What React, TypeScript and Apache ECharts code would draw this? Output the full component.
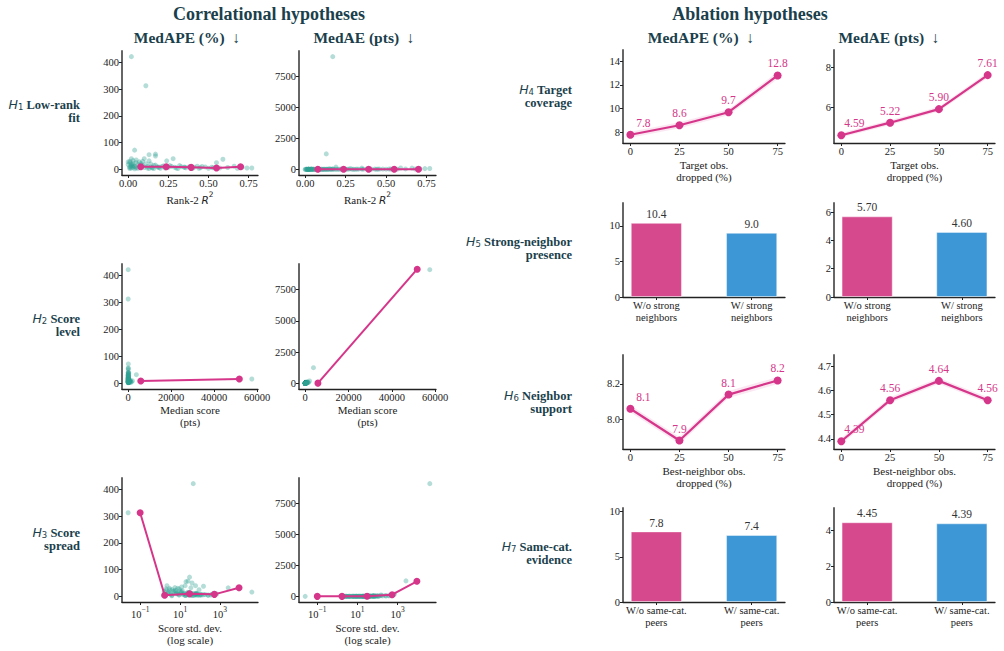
import React, { useEffect, useRef } from "react";
import * as echarts from "echarts";

const SERIF = "Liberation Serif, Times New Roman, Times, serif";
const MATH = "DejaVu Sans, sans-serif";
const INK = "#222222";
const HEAD = "#1b3f4c";
const MAGENTA = "#d6368a";
const TEAL = "rgba(46,160,148,0.45)";
const BAR_COLORS = ["#d64a8d", "#3d96d6"];
const RIBBON = "rgba(214,54,138,0.12)";

// Per-target measures (one entry per target)
const rankR2 = [
  0.02, 0.11, 0.17, 0.13, 0.19, 0.04, 0.17, 0.17, 0.13, 0.1,
  0.05, 0.28, 0.24, 0.59, 0.55, 0.66, 0.74, 0.77, 0.71, 0.01,
  0.01, 0.02, 0.03, 0.0, 0.01, 0.02, 0.03, 0.04, 0.05, 0.06,
  0.07, 0.08, 0.09, 0.1, 0.12, 0.14, 0.15, 0.16, 0.18, 0.2,
  0.22, 0.25, 0.27, 0.3, 0.32, 0.35, 0.38, 0.4, 0.43, 0.45,
  0.48, 0.5, 0.52, 0.57, 0.62, 0.68, 0.01, 0.02, 0.03, 0.0,
  0.05, 0.06, 0.07, 0.08, 0.04, 0.09, 0.11, 0.13, 0.02, 0.03,
  0.15, 0.35, 0.12, 0.14, 0.16, 0.19, 0.21, 0.23, 0.26, 0.29,
  0.31, 0.33, 0.36, 0.41, 0.44, 0.46, 0.53, 0.01, 0.02, 0.04,
];
const medianScore = [
  8, 0.1, 57500, 3800, 2000, 60, 40, 45, 30, 25,
  20, 150, 80, 300, 200, 900, 1200, 1500, 600, 12,
  10, 15, 18, 9, 14, 11, 20, 25, 30, 22,
  35, 28, 40, 50, 65, 45, 70, 90, 110, 120,
  140, 100, 160, 180, 130, 200, 250, 170, 220, 300,
  260, 350, 400, 330, 500, 700, 8, 6, 16, 5,
  13, 18, 24, 33, 19, 27, 38, 55, 10, 7,
  900, 1100, 42, 60, 75, 95, 85, 130, 115, 145,
  190, 160, 210, 240, 270, 230, 380, 9, 13, 17,
];
const scoreSd = [
  46, 0.025, 40000, 2600, 700, 30, 25, 40, 20, 18,
  12, 60, 35, 150, 90, 500, 350, 250, 400, 3,
  4, 5, 6, 2, 2.5, 1.8, 3.5, 7, 9, 4.5,
  8, 6, 11, 14, 16, 10, 20, 24, 30, 28,
  33, 26, 45, 38, 30, 55, 70, 42, 65, 80,
  75, 95, 110, 120, 180, 260, 1.5, 2.2, 5.5, 1.6,
  3, 4, 9, 12, 6.5, 7.5, 13, 18, 2.8, 2,
  150, 600, 9, 15, 19, 22, 21, 34, 27, 36,
  50, 40, 58, 62, 72, 60, 105, 1.7, 2.6, 3.8,
];
const medApe = [
  422, 313, 16, 32, 9, 72, 57, 50, 55, 40,
  35, 40, 32, 38, 25, 12, 5, 5, 8, 30,
  25, 20, 15, 28, 10, 5, 8, 12, 6, 18,
  10, 22, 14, 7, 11, 20, 6, 15, 9, 4,
  13, 8, 11, 5, 14, 7, 10, 3, 12, 6,
  9, 4, 8, 5, 7, 4, 3, 40, 33, 18,
  25, 4, 28, 17, 9, 30, 21, 3, 12, 22,
  6, 9, 5, 9, 3, 7, 11, 5, 14, 8,
  3, 10, 6, 8, 4, 11, 6, 7, 16, 2,
];
const medAe = [
  34, 0.3, 9100, 1250, 185, 40, 22, 23, 16, 10,
  7, 60, 25, 110, 50, 100, 60, 70, 45, 3,
  2.5, 3, 2.7, 2.5, 1.4, 0.6, 1.6, 3, 1.8, 4,
  3.5, 6, 5.6, 3.5, 7, 9, 4, 13, 10, 5,
  18, 8, 18, 9, 18, 14, 25, 5, 26, 18,
  23, 14, 32, 17, 35, 28, 0.3, 2.4, 5, 0.9,
  3, 0.7, 6.5, 5.6, 1.7, 8, 8, 1.6, 1.2, 1.5,
  55, 100, 2, 5, 2, 6.5, 9, 6.5, 16, 11,
  5.7, 16, 12.6, 19, 11, 25, 23, 0.6, 2, 0.35,
];

// Binned trend lines
const r2BinX = [0.078, 0.237, 0.392, 0.55, 0.7];
const r2BinApe = [10, 9.5, 7.5, 5, 9.5];
const r2BinAe = [14, 12, 10, 8, 11];
const medBinX = [5860, 51700];
const medBinApe = [8.6, 16];
const medBinAe = [15, 9140];
const sdBinX = [0.1, 1.7, 30, 530, 9100];
const sdBinApe = [313, 4, 10, 7.5, 32];
const sdBinAe = [0.3, 1.5, 12, 137, 1213];

// Ablations
const dropped = [0, 25, 50, 75];
const h4Ape = [7.8, 8.6, 9.7, 12.8];
const h4ApeLo = [7.55, 8.35, 9.45, 12.5];
const h4ApeHi = [8.05, 8.85, 9.95, 13.1];
const h4Ae = [4.59, 5.22, 5.9, 7.61];
const h4AeLo = [4.47, 5.1, 5.78, 7.47];
const h4AeHi = [4.71, 5.34, 6.02, 7.75];
const h6Ape = [8.06, 7.88, 8.14, 8.22];
const h6ApeLo = [8.04, 7.86, 8.12, 8.2];
const h6ApeHi = [8.08, 7.9, 8.16, 8.24];
const h6Ae = [4.39, 4.56, 4.64, 4.56];
const h6AeLo = [4.378, 4.548, 4.628, 4.548];
const h6AeHi = [4.402, 4.572, 4.652, 4.572];
const h5Groups = ["W/o strong\nneighbors", "W/ strong\nneighbors"];
const h5Ape = [10.4, 9.0];
const h5Ae = [5.7, 4.6];
const h7Groups = ["W/o same-cat.\npeers", "W/ same-cat.\npeers"];
const h7Ape = [7.8, 7.4];
const h7Ae = [4.45, 4.39];

// Tick values
const apeTicks = [0, 100, 200, 300, 400];
const aeTicks = [0, 2500, 5000, 7500];
const r2Ticks = [0, 0.25, 0.5, 0.75];
const medTicks = [0, 20000, 40000, 60000];
const sdTicks = [0.1, 10, 1000];
const dropTicks = [0, 25, 50, 75];

type AnyObj = Record<string, any>;

const tickFont = { fontFamily: SERIF, fontSize: 10.5, color: INK };

function xAxis(o: AnyObj): AnyObj {
  return {
    type: o.type || "value",
    ...(o.type === "log" ? { logBase: 10 } : {}),
    min: o.min,
    max: o.max,
    position: "bottom",
    axisLine: { show: true, onZero: false, lineStyle: { color: "#222", width: 1.3 } },
    axisTick: { show: true, length: 3, customValues: o.ticks, lineStyle: { color: "#222", width: 1 } },
    axisLabel: {
      show: true,
      customValues: o.ticks,
      formatter: o.fmt,
      margin: 3,
      lineHeight: 11.5,
      ...tickFont,
      ...(o.labelRich ? { rich: o.labelRich } : {}),
    },
    splitLine: { show: false },
    name: o.name,
    nameLocation: "middle",
    nameGap: o.nameGap,
    nameTextStyle: {
      fontFamily: SERIF,
      fontSize: 11,
      color: INK,
      lineHeight: 12,
      ...(o.nameRich ? { rich: o.nameRich } : {}),
    },
  };
}

function yAxis(min: number, max: number, ticks: number[], fmt: (v: number) => string): AnyObj {
  return {
    type: "value",
    min,
    max,
    axisLine: { show: true, onZero: false, lineStyle: { color: "#666", width: 2 } },
    axisTick: { show: true, length: 3, customValues: ticks, lineStyle: { color: "#222", width: 1 } },
    axisLabel: { show: true, customValues: ticks, formatter: fmt, margin: 3, ...tickFont },
    splitLine: { show: false },
  };
}

const plain = (v: number) => String(v);
const fixed = (d: number) => (v: number) => v.toFixed(d);

const logRich = {
  b: { fontFamily: SERIF, fontSize: 10.5, color: INK, lineHeight: 15, verticalAlign: "bottom" },
  s: { fontFamily: SERIF, fontSize: 7.5, color: INK, verticalAlign: "top" },
};
const logFmt = (v: number) => {
  const e = Math.round(Math.log10(v));
  return `{b|10}{s|${e < 0 ? "\u2212" : ""}${Math.abs(e)}}`;
};
const r2NameRich = {
  t: { fontFamily: SERIF, fontSize: 11, color: INK, lineHeight: 15, verticalAlign: "bottom" },
  i: { fontFamily: MATH, fontStyle: "italic", fontSize: 10.5, color: INK, lineHeight: 15, verticalAlign: "bottom" },
  s: { fontFamily: MATH, fontSize: 7.5, color: INK, verticalAlign: "top" },
};

function buildOption(): AnyObj {
  const grid: AnyObj[] = [];
  const xAxes: AnyObj[] = [];
  const yAxes: AnyObj[] = [];
  const series: AnyObj[] = [];

  const addPanel = (box: number[], xa: AnyObj, ya: AnyObj) => {
    const idx = grid.length;
    grid.push({ left: box[0], top: box[1], width: box[2], height: box[3], containLabel: false, outerBoundsMode: "none" });
    xAxes.push({ ...xa, gridIndex: idx });
    yAxes.push({ ...ya, gridIndex: idx });
    return idx;
  };

  // ---- Correlational panels ----
  const leftCols = [
    [122, 136],
    [299, 137],
  ];
  const leftRows = [
    [51, 124],
    [264, 125],
    [478, 124],
  ];
  const apeRange = [-21.1, 443.1];
  const aeRange = [-455, 9555];

  const rowDefs = [
    {
      xs: rankR2,
      bins: r2BinX,
      binY: [r2BinApe, r2BinAe],
      axis: {
        min: -0.0385,
        max: 0.8085,
        ticks: r2Ticks,
        fmt: fixed(2),
        name: "{t|Rank-2 }{i|R}{s|2}",
        nameRich: r2NameRich,
        nameGap: 12,
      },
    },
    {
      xs: medianScore,
      bins: medBinX,
      binY: [medBinApe, medBinAe],
      axis: { min: -2875, max: 60375, ticks: medTicks, fmt: plain, name: "Median score\n(pts)", nameGap: 15 },
    },
    {
      xs: scoreSd,
      bins: sdBinX,
      binY: [sdBinApe, sdBinAe],
      axis: {
        type: "log",
        min: Math.pow(10, -1.91),
        max: Math.pow(10, 4.91),
        ticks: sdTicks,
        fmt: logFmt,
        labelRich: logRich,
        name: "Score std. dev.\n(log scale)",
        nameGap: 20,
      },
    },
  ];

  rowDefs.forEach((row, r) => {
    [medApe, medAe].forEach((ys, c) => {
      const range = c === 0 ? apeRange : aeRange;
      const idx = addPanel(
        [leftCols[c][0], leftRows[r][0], leftCols[c][1], leftRows[r][1]],
        xAxis(row.axis),
        yAxis(range[0], range[1], c === 0 ? apeTicks : aeTicks, plain)
      );
      series.push({
        type: "scatter",
        xAxisIndex: idx,
        yAxisIndex: idx,
        data: row.xs.map((x, i) => [x, ys[i]]),
        symbolSize: 5,
        itemStyle: { color: TEAL },
        silent: true,
        z: 2,
      });
      series.push({
        type: "line",
        xAxisIndex: idx,
        yAxisIndex: idx,
        data: row.bins.map((x, i) => [x, row.binY[c][i]]),
        symbol: "circle",
        symbolSize: 7,
        lineStyle: { color: MAGENTA, width: 2 },
        itemStyle: { color: MAGENTA },
        silent: true,
        z: 3,
      });
    });
  });

  // ---- Ablation panels ----
  const rightCols = [
    [623, 162],
    [834, 161],
  ];
  const rightRows = [
    [50, 93],
    [203, 94],
    [355, 94],
    [508, 94],
  ];

  const lineAxis = (name: string) => ({
    min: -3.75,
    max: 78.75,
    ticks: dropTicks,
    fmt: plain,
    name,
    nameGap: 16,
  });

  const linePanel = (
    box: number[],
    name: string,
    yr: number[],
    yt: number[],
    yf: (v: number) => string,
    vals: number[],
    lo: number[],
    hi: number[],
    dec: number
  ) => {
    const idx = addPanel(box, xAxis(lineAxis(name)), yAxis(yr[0], yr[1], yt, yf));
    series.push({
      type: "custom",
      xAxisIndex: idx,
      yAxisIndex: idx,
      data: [[dropped[0], lo[0]]],
      silent: true,
      z: 1,
      renderItem: (_p: any, api: any) => {
        const pts: number[][] = [];
        dropped.forEach((x, i) => pts.push(api.coord([x, hi[i]])));
        for (let i = dropped.length - 1; i >= 0; i--) pts.push(api.coord([dropped[i], lo[i]]));
        return { type: "polygon", shape: { points: pts }, style: { fill: RIBBON } };
      },
    });
    series.push({
      type: "line",
      xAxisIndex: idx,
      yAxisIndex: idx,
      data: dropped.map((x, i) =>
        i === 0 ? { value: [x, vals[i]], label: { offset: [13, 0] } } : [x, vals[i]]
      ),
      symbol: "circle",
      symbolSize: 8,
      lineStyle: { color: MAGENTA, width: 2.2 },
      itemStyle: { color: MAGENTA },
      label: {
        show: true,
        position: "top",
        distance: 2,
        color: MAGENTA,
        fontFamily: SERIF,
        fontSize: 11.5,
        formatter: (p: any) => p.value[1].toFixed(dec),
      },
      silent: true,
      z: 3,
    });
  };

  const barPanel = (
    box: number[],
    groups: string[],
    yr: number[],
    yt: number[],
    vals: number[],
    dec: number
  ) => {
    const idx = addPanel(
      box,
      xAxis({ min: 0.65, max: 2.35, ticks: [1, 2], fmt: (v: number) => groups[Math.round(v) - 1] || "", name: "", nameGap: 0 }),
      yAxis(yr[0], yr[1], yt, plain)
    );
    series.push({
      type: "bar",
      xAxisIndex: idx,
      yAxisIndex: idx,
      barWidth: 51,
      data: vals.map((v, i) => ({ value: [i + 1, v], itemStyle: { color: BAR_COLORS[i] } })),
      itemStyle: { borderColor: "rgba(255,255,255,0.55)", borderWidth: 0.8 },
      label: {
        show: true,
        position: "top",
        distance: 3,
        color: "#333",
        fontFamily: SERIF,
        fontSize: 11.5,
        formatter: (p: any) => p.value[1].toFixed(dec),
      },
      silent: true,
    });
  };

  const box = (c: number, r: number) => [rightCols[c][0], rightRows[r][0], rightCols[c][1], rightRows[r][1]];

  linePanel(box(0, 0), "Target obs.\ndropped (%)", [7.1, 14.95], [8, 10, 12, 14], plain, h4Ape, h4ApeLo, h4ApeHi, 1);
  linePanel(box(1, 0), "Target obs.\ndropped (%)", [4.2, 8.87], [6, 8], plain, h4Ae, h4AeLo, h4AeHi, 2);
  barPanel(box(0, 1), h5Groups, [0, 13.2], [0, 5, 10], h5Ape, 1);
  barPanel(box(1, 1), h5Groups, [0, 6.65], [0, 2, 4, 6], h5Ae, 2);
  linePanel(box(0, 2), "Best-neighbor obs.\ndropped (%)", [7.832, 8.364], [8.0, 8.2], fixed(1), h6Ape, h6ApeLo, h6ApeHi, 1);
  linePanel(box(1, 2), "Best-neighbor obs.\ndropped (%)", [4.358, 4.747], [4.4, 4.5, 4.6, 4.7], fixed(1), h6Ae, h6AeLo, h6AeHi, 2);
  barPanel(box(0, 3), h7Groups, [0, 10.4], [0, 5, 10], h7Ape, 1);
  barPanel(box(1, 3), h7Groups, [0, 5.25], [0, 2, 4], h7Ae, 2);

  // ---- Headings and row labels ----
  const heading = (text: string, x: number, y: number, size: number) => ({
    type: "text",
    x,
    y,
    silent: true,
    style: {
      text,
      fontFamily: SERIF,
      fontWeight: "bold",
      fontSize: size,
      fill: HEAD,
      align: "center",
      verticalAlign: "middle",
    },
  });

  const rowRich = {
    h: { fontFamily: MATH, fontStyle: "italic", fontWeight: "normal", fontSize: 12.5, fill: HEAD, lineHeight: 14, verticalAlign: "middle" },
    n: { fontFamily: MATH, fontWeight: "normal", fontSize: 8.5, fill: HEAD, verticalAlign: "bottom" },
    b: { fontFamily: SERIF, fontWeight: "bold", fontSize: 12.5, fill: HEAD, lineHeight: 13, verticalAlign: "middle" },
  };
  const rowLabel = (num: number, first: string, second: string, x: number, y: number) => ({
    type: "text",
    x,
    y,
    silent: true,
    style: {
      text: `{h|H}{n|${num}}{b| ${first}}\n{b|${second}}`,
      fontFamily: SERIF,
      fontWeight: "bold",
      fontSize: 12.5,
      fill: HEAD,
      align: "right",
      verticalAlign: "middle",
      rich: rowRich,
    },
  });

  const graphic = [
    heading("Correlational hypotheses", 269, 14, 18),
    heading("Ablation hypotheses", 750, 14, 18),
    heading("MedAPE (%)  \u2193", 187, 37, 15.5),
    heading("MedAE (pts)  \u2193", 364, 37, 15.5),
    heading("MedAPE (%)  \u2193", 701, 37, 15.5),
    heading("MedAE (pts)  \u2193", 889, 37, 15.5),
    rowLabel(1, "Low-rank", "fit", 80, 111),
    rowLabel(2, "Score", "level", 80, 325),
    rowLabel(3, "Score", "spread", 80, 539),
    rowLabel(4, "Target", "coverage", 572, 96),
    rowLabel(5, "Strong-neighbor", "presence", 572, 248),
    rowLabel(6, "Neighbor", "support", 572, 402),
    rowLabel(7, "Same-cat.", "evidence", 572, 553),
  ];

  return {
    animation: false,
    backgroundColor: "#ffffff",
    textStyle: { fontFamily: SERIF },
    grid,
    xAxis: xAxes,
    yAxis: yAxes,
    series,
    graphic,
  };
}

export default function App() {
  const ref = useRef<HTMLDivElement>(null);
  useEffect(() => {
    if (!ref.current) return;
    const chart = echarts.init(ref.current, null, { renderer: "svg" });
    chart.setOption(buildOption());
    return () => chart.dispose();
  }, []);
  return (
    <div
      ref={ref}
      style={{ position: "absolute", left: 0, top: 0, width: 1004, height: 651 }}
    />
  );
}
